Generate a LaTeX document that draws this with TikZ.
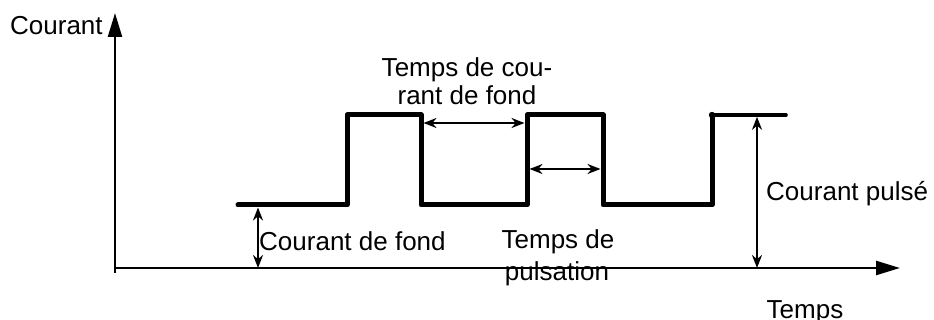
\documentclass[tikz,border=0pt]{standalone}
\usepackage{fontspec}
\setmainfont{Liberation Sans}
\usetikzlibrary{arrows.meta}
\begin{document}
\begin{tikzpicture}[x=1pt,y=-1pt,
  lbl/.style={inner sep=0pt, font=\fontsize{26}{30}\selectfont},
  axis/.style={line width=2.4pt, -{Triangle[length=24pt,width=14pt]}},
  wave/.style={line width=5pt, line join=round, line cap=round},
  thinwave/.style={line width=3.6pt, line cap=round},
  dim/.style={line width=2.2pt, {Stealth[length=13pt,width=10pt]}-{Stealth[length=13pt,width=10pt]}}]
\useasboundingbox (0,0) rectangle (934,320);
% axes
\coordinate (O) at (115,268);
\coordinate (ytop) at (115,13);
\coordinate (ybot) at (115,273);
\coordinate (xend) at (900,268);
\draw[axis] (ybot) -- (ytop);
\draw[axis] (O) -- (xend);
% waveform
\coordinate (w0) at (238,205);
\coordinate (w1) at (347,205);
\coordinate (w2) at (347,115);
\coordinate (w3) at (421,115);
\coordinate (w4) at (421,205);
\coordinate (w5) at (527,205);
\coordinate (w6) at (527,115);
\coordinate (w7) at (603,115);
\coordinate (w8) at (603,205);
\coordinate (w9) at (712,205);
\coordinate (w10) at (712,115);
\coordinate (w11) at (786,115);
\draw[wave] (w0) -- (w1) -- (w2) -- (w3) -- (w4) -- (w5) -- (w6) -- (w7) -- (w8) -- (w9) -- (w10);
\draw[thinwave] (w10) -- (w11);
\fill (w10) circle (3.2pt);
% dimension arrows
\coordinate (cfa) at (258,207.5);
\coordinate (cfb) at (258,268);
\draw[dim] (cfa) -- (cfb);
\coordinate (tcfa) at (423.5,123);
\coordinate (tcfb) at (524.5,123);
\draw[dim] (tcfa) -- (tcfb);
\coordinate (tpa) at (529.5,169);
\coordinate (tpb) at (600.5,169);
\draw[dim] (tpa) -- (tpb);
\coordinate (cpa) at (757,116.8);
\coordinate (cpb) at (757,268);
\draw[dim] (cpa) -- (cpb);
% labels
\node[lbl, anchor=base west] (courant) at (10,35) {Courant};
\node[lbl, anchor=base] (tcf1) at (467,77) {Temps de cou-};
\node[lbl, anchor=base] (tcf2) at (467,105) {rant de fond};
\node[lbl, anchor=base west] (cdf) at (259,251) {Courant de fond};
\node[lbl, anchor=base] (tp1) at (558,249) {Temps de};
\node[lbl, anchor=base] (tp2) at (557,281) {pulsation};
\node[lbl, anchor=base west] (cp) at (766,201) {Courant pulsé};
\node[lbl, anchor=base] (temps) at (805,318) {Temps};
\end{tikzpicture}
\end{document}
